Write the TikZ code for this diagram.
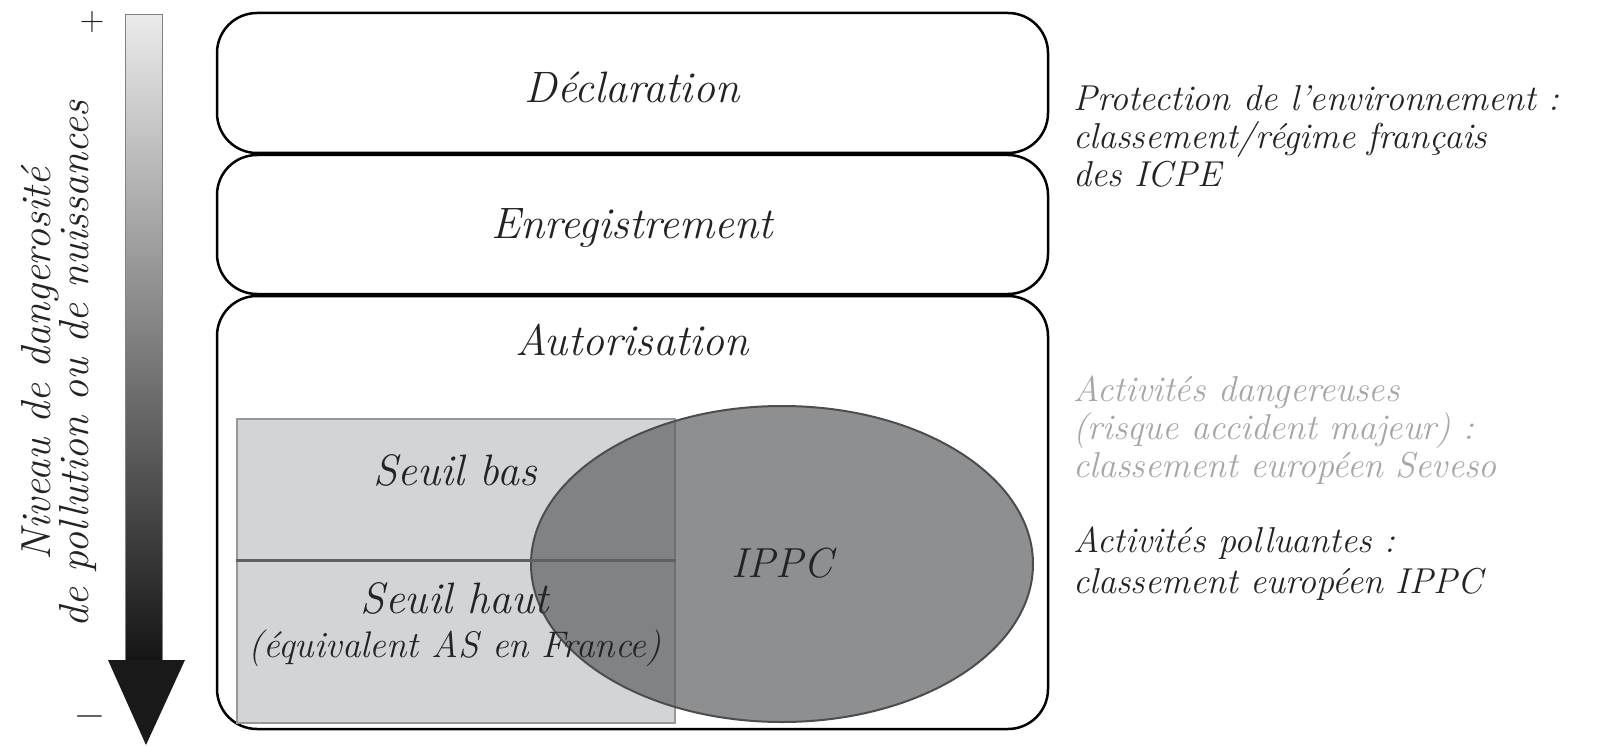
\documentclass[tikz,border=0pt]{standalone}
\usepackage{fontspec}
\usetikzlibrary{shapes.geometric}
\definecolor{txt}{RGB}{35,35,38}
\definecolor{seveso}{RGB}{165,166,168}
\definecolor{rectfill}{RGB}{210,212,214}
\definecolor{rectline}{RGB}{150,152,154}
\definecolor{ellfill}{RGB}{95,97,99}
\definecolor{ellline}{RGB}{75,77,79}
\begin{document}
\begin{tikzpicture}[x=1pt,y=-1pt,
  box/.style={draw=black,line width=2.5pt,rounded corners=40pt,inner sep=0pt},
  lab/.style={font=\fontsize{44}{50}\selectfont\itshape,text=txt,inner sep=0pt},
  sub/.style={font=\fontsize{44}{48}\selectfont\itshape,text=txt,inner sep=0pt},
  side/.style={font=\fontsize{36}{38}\selectfont\itshape,text=txt,inner sep=0pt,anchor=west,align=left}]
\useasboundingbox (0,0) rectangle (1603,746);
% boxes
\node[box,minimum width=831pt,minimum height=140pt] (decl) at (632.5,83) {};
\node[box,minimum width=831pt,minimum height=139pt] (enr) at (632.5,224.5) {};
\node[box,minimum width=831pt,minimum height=433pt] (auto) at (632.5,512.5) {};
\node[lab] (tdecl) at (632,87) {Déclaration};
\node[lab] (tenr) at (632,228) {Enregistrement};
\node[lab] (tauto) at (632,340) {Autorisation};
% seveso rectangle
\node[draw=rectline,fill=rectfill,line width=1.5pt,minimum width=438pt,minimum height=304pt,inner sep=0pt] (sev) at (456,571) {};
% IPPC ellipse
\node[ellipse,draw=ellline,line width=2pt,fill=ellfill,fill opacity=0.71,minimum width=502pt,minimum height=316pt,inner sep=0pt] (ippc) at (782,564) {};
% divider
\draw[draw={rgb,255:red,95;green,97;blue,99},line width=3pt] (sev.west |- 0,560) -- (sev.east |- 0,560);
\node[sub] (sb) at (455,470) {Seuil bas};
\node[sub] (sh) at (455,598) {Seuil haut};
\node[font=\fontsize{37}{40}\selectfont\itshape,text=txt,inner sep=0pt] (eq) at (455,648) {(équivalent AS en France)};
\node[font=\fontsize{42}{44}\selectfont\itshape,text=txt,inner sep=0pt] (tippc) at (782,563) {IPPC};
% side texts
\node[side] (prot) at (1073,136) {Protection de l'environnement :\\classement/régime français\\des ICPE};
\node[side,text=seveso] (sevtxt) at (1073,430) {Activités dangereuses\\(risque accident majeur) :\\classement européen Seveso};
\node[side,font=\fontsize{36}{41}\selectfont\itshape] (poll) at (1073,564) {Activités polluantes :\\classement européen IPPC};
% gradient arrow
\shade[top color=white!92!black,bottom color=black!92] (125,15) rectangle (162,662);
\draw[draw=gray,line width=1pt] (125,662) -- (125,15) -- (162,15) -- (162,662);
\fill[black!90] (108,660) -- (185,660) -- (146,745) -- cycle;
\node[font=\fontsize{34}{38}\selectfont,text=txt] (plus) at (92,22) {+};
\node[font=\fontsize{40}{40}\selectfont,text=txt] (minus) at (90,721) {−};
\node[rotate=90,align=center,font=\fontsize{42}{38}\selectfont\itshape,text=txt,inner sep=0pt] (lvl) at (59,364) {Niveau de dangerosité\\de pollution ou de nuissances};
\end{tikzpicture}
\end{document}
